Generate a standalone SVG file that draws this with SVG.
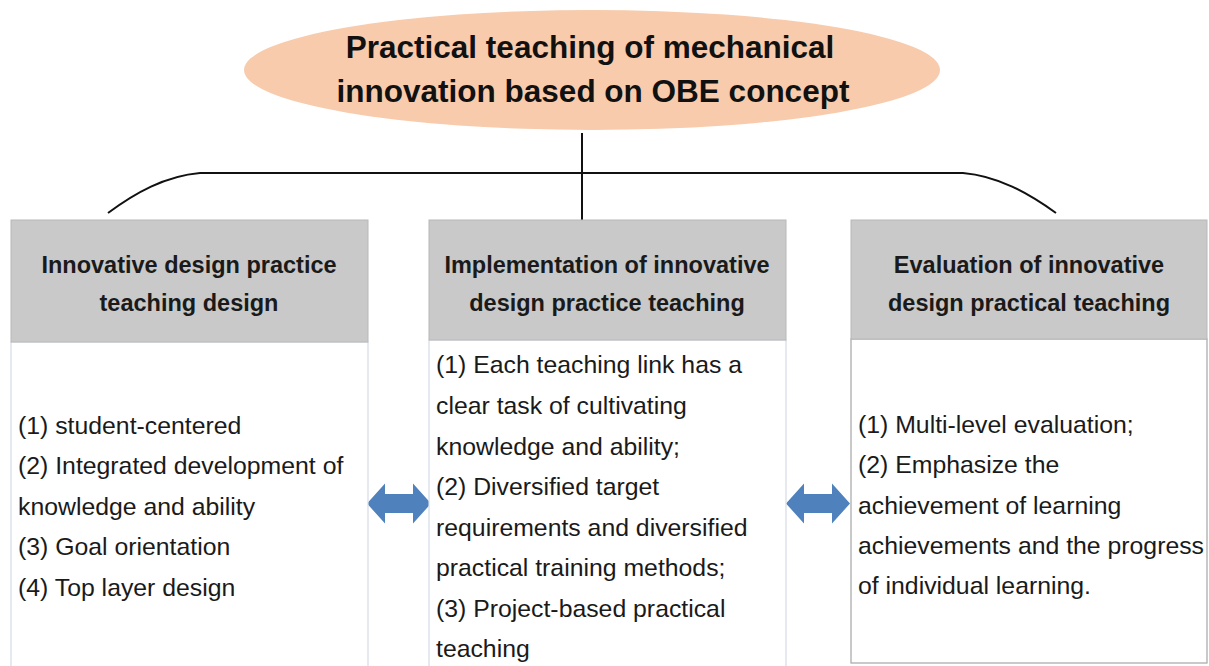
<svg xmlns="http://www.w3.org/2000/svg" width="1209" height="666" viewBox="0 0 1209 666">
  <style>
    .title { font-family: "Liberation Sans", Arial, sans-serif; font-weight: bold; font-size: 31.5px; fill: #111; text-anchor: middle; }
    .head { font-family: "Liberation Sans", Arial, sans-serif; font-weight: bold; font-size: 23.5px; fill: #1a1a1a; text-anchor: middle; }
    .body { font-family: "Liberation Sans", Arial, sans-serif; font-size: 24.8px; fill: #1a1a1a; }
    .hdr { fill: #C9C9C9; stroke: #B8B8B8; stroke-width: 1; }
    .pane { fill: #FFFFFF; stroke: #D5DCE6; stroke-width: 1.2; }
    .link { fill: none; stroke: #111; stroke-width: 2; }
    .arrow { fill: #4F81BD; }
  </style>
  <defs>
    <!-- horizontal double-headed block arrow, 64 wide, centred on 0,0 -->
    <polygon id="dbl" class="arrow" points="-32,0 -14,-20 -14,-9.5 14,-9.5 14,-20 32,0 14,20 14,9.5 -14,9.5 -14,20"/>
  </defs>

  <g id="root">
    <ellipse cx="592" cy="70" rx="348" ry="60" fill="#F7CBAC"/>
    <text class="title" x="590" y="58">Practical teaching of mechanical</text>
    <text class="title" x="593" y="102">innovation based on OBE concept</text>
  </g>

  <g id="connectors">
    <line class="link" x1="582" y1="133" x2="582" y2="228" stroke-width="1.6"/>
    <path class="link" d="M108,213 C135,193 165,176 200,173 L963,173 C998,176 1028,193 1056,213"/>
    <use href="#dbl" x="399" y="503.5"/>
    <use href="#dbl" x="818" y="503.5"/>
  </g>

  <g id="design">
    <rect class="pane" x="11" y="342" width="357" height="330"/>
    <rect class="hdr" x="11" y="220" width="357" height="122"/>
    <text class="head" x="189" y="273">Innovative design practice</text>
    <text class="head" x="189" y="311">teaching design</text>
    <text class="body" x="18" y="434">(1) student-centered</text>
    <text class="body" x="18" y="474">(2) Integrated development of</text>
    <text class="body" x="18" y="515">knowledge and ability</text>
    <text class="body" x="18" y="555">(3) Goal orientation</text>
    <text class="body" x="18" y="596">(4) Top layer design</text>
  </g>

  <g id="implementation">
    <rect class="pane" x="429" y="340" width="357" height="332"/>
    <rect class="hdr" x="429" y="220" width="357" height="120"/>
    <text class="head" x="607" y="273">Implementation of innovative</text>
    <text class="head" x="607" y="311">design practice teaching</text>
    <text class="body" x="436" y="373">(1) Each teaching link has a</text>
    <text class="body" x="436" y="414">clear task of cultivating</text>
    <text class="body" x="436" y="455">knowledge and ability;</text>
    <text class="body" x="436" y="495">(2) Diversified target</text>
    <text class="body" x="436" y="536">requirements and diversified</text>
    <text class="body" x="436" y="576">practical training methods;</text>
    <text class="body" x="436" y="617">(3) Project-based practical</text>
    <text class="body" x="436" y="657">teaching</text>
  </g>

  <g id="evaluation">
    <rect x="851" y="339" width="356" height="324" fill="#FFFFFF" stroke="#A6A6A6" stroke-width="1.2"/>
    <rect class="hdr" x="851" y="220" width="356" height="119"/>
    <text class="head" x="1029" y="273">Evaluation of innovative</text>
    <text class="head" x="1029" y="311">design practical teaching</text>
    <text class="body" x="858" y="433">(1) Multi-level evaluation;</text>
    <text class="body" x="858" y="473">(2) Emphasize the</text>
    <text class="body" x="858" y="514">achievement of learning</text>
    <text class="body" x="858" y="554">achievements and the progress</text>
    <text class="body" x="858" y="594">of individual learning.</text>
  </g>
</svg>
